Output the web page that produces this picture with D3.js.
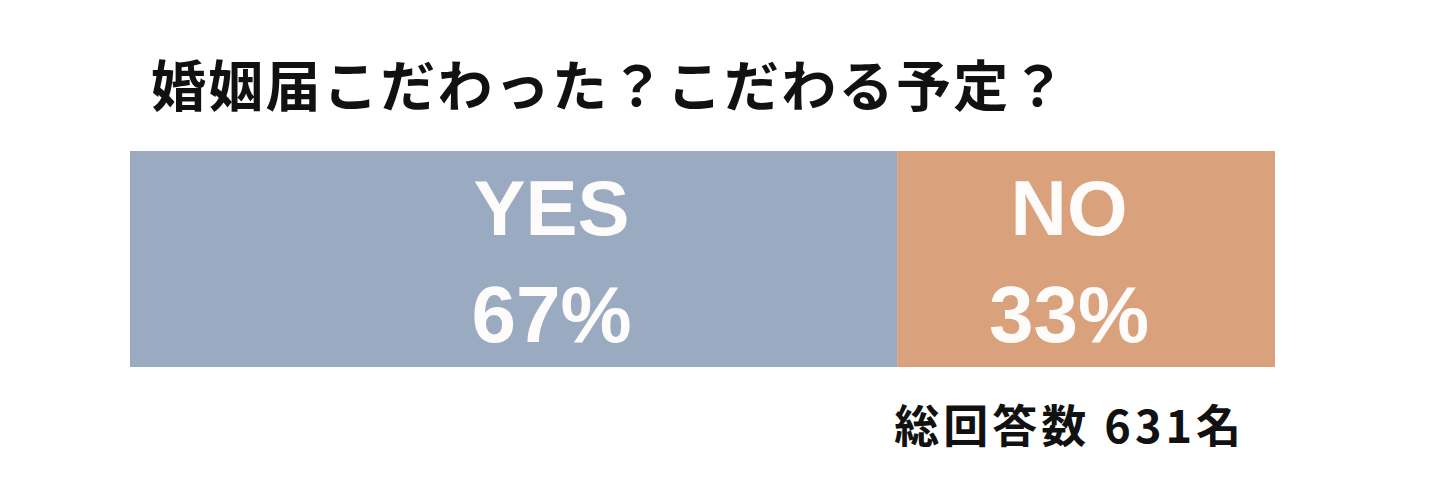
<!DOCTYPE html>
<html>
<head>
<meta charset="utf-8">
<script src="https://cdn.jsdelivr.net/npm/d3@7"></script>
<style>
  body { margin: 0; background: #fff; }
  svg { display: block; }
</style>
</head>
<body>
<div id="chart"></div>
<script>
// data
var categories = ["YES", "NO"];
var percents = [67, 33];
var colors = ["#99aac1", "#d9a27c"];
var title = "婚姻届こだわった？こだわる予定？";
var totalLabel = "総回答数 631名";

var width = 1434,
    height = 498;

var barLeft = 130, barRight = 1275,
    barTop = 151, barBottom = 367;

// label nudges inside each segment (as seen in the picture)
var labelShift = [38, -17];

var svg = d3.select("#chart")
    .append("svg")
    .attr("width", width)
    .attr("height", height);

// scale for stacked bar
var x = d3.scaleLinear()
    .domain([0, d3.sum(percents)])
    .range([barLeft, barRight]);

var stacked = [];
var acc = 0;
categories.forEach(function(c, i) {
    stacked.push({ name: c, value: percents[i], x0: acc, x1: acc + percents[i], color: colors[i], shift: labelShift[i] });
    acc += percents[i];
});

// title
svg.append("text")
    .attr("x", 151)
    .attr("y", 106)
    .style("font-family", "'Noto Sans CJK JP', sans-serif")
    .style("font-weight", "700")
    .style("font-size", "55px")
    .style("letter-spacing", "2.3px")
    .style("fill", "#111")
    .text(title);

var seg = svg.append("g")
    .selectAll(".seg")
    .data(stacked)
    .enter()
    .append("g")
    .attr("class", "seg");

seg.append("rect")
    .attr("x", function(d) { return x(d.x0); })
    .attr("y", barTop)
    .attr("width", function(d) { return x(d.x1) - x(d.x0); })
    .attr("height", barBottom - barTop)
    .style("fill", function(d) { return d.color; });

seg.append("text")
    .attr("x", function(d) { return (x(d.x0) + x(d.x1)) / 2 + d.shift; })
    .attr("y", 235)
    .attr("text-anchor", "middle")
    .style("font-family", "'Liberation Sans', Arial, sans-serif")
    .style("font-weight", "700")
    .style("font-size", "78px")
    .style("fill", "#fdfcfa")
    .text(function(d) { return d.name; });

seg.append("text")
    .attr("x", function(d) { return (x(d.x0) + x(d.x1)) / 2 + d.shift; })
    .attr("y", 342)
    .attr("text-anchor", "middle")
    .style("font-family", "'Liberation Sans', Arial, sans-serif")
    .style("font-weight", "700")
    .style("font-size", "80px")
    .style("fill", "#fdfcfa")
    .text(function(d) { return d.value + "%"; });

// total respondents
svg.append("text")
    .attr("x", x(percents[0]) - 3)
    .attr("y", 443)
    .style("font-family", "'Noto Sans CJK JP', sans-serif")
    .style("font-weight", "700")
    .style("font-size", "45px")
    .style("letter-spacing", "4px")
    .style("fill", "#111")
    .text(totalLabel);
</script>
</body>
</html>
